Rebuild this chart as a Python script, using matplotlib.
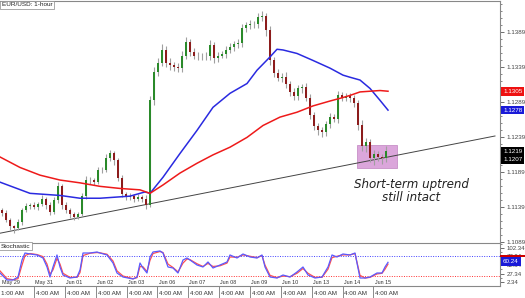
import numpy as np
import matplotlib
matplotlib.use('Agg')
from matplotlib import pyplot as plt
from matplotlib.patches import Rectangle

# 3-hour candles (close prices), open = previous close
first_open = 1.1135
closes = [1.1131, 1.1121, 1.1112, 1.1109, 1.1118, 1.1135, 1.1141, 1.1142, 1.1139, 1.1144,
          1.1151, 1.1142, 1.1132, 1.1149, 1.1169, 1.1142, 1.1135, 1.1129, 1.1125, 1.1129,
          1.1155, 1.1178, 1.1178, 1.1175, 1.1192, 1.1192, 1.1209, 1.1216, 1.1206, 1.1181,
          1.1158, 1.1154, 1.1155, 1.1151, 1.1154, 1.1151, 1.1142, 1.1292, 1.1332, 1.1346,
          1.1364, 1.1346, 1.1342, 1.1339, 1.1338, 1.1356, 1.1375, 1.1361, 1.1356, 1.1355,
          1.1356, 1.1355, 1.1371, 1.1352, 1.1356, 1.1358, 1.1364, 1.1368, 1.1372, 1.1374,
          1.1395, 1.1399, 1.1401, 1.1401, 1.1411, 1.1412, 1.1392, 1.1349, 1.1331, 1.1324,
          1.1326, 1.1315, 1.1304, 1.1298, 1.1309, 1.1311, 1.1296, 1.1271, 1.1255, 1.1249,
          1.1246, 1.1258, 1.1268, 1.1266, 1.1299, 1.1296, 1.1298, 1.1295, 1.1288, 1.1256,
          1.1226, 1.1232, 1.1209, 1.1215, 1.1211, 1.1209, 1.1219]
# wick lengths in pips above / below the body
wick_up = [3, 4, 3, 2, 4, 3, 4, 3, 4, 3,
           5, 3, 4, 5, 6, 3, 4, 3, 3, 4,
           5, 6, 4, 3, 5, 4, 6, 5, 4, 3,
           4, 3, 4, 3, 4, 3, 5, 6, 7, 6,
           8, 5, 6, 5, 6, 6, 8, 5, 6, 5,
           4, 5, 7, 4, 5, 4, 5, 6, 5, 5,
           6, 5, 6, 5, 6, 7, 5, 6, 5, 6,
           5, 6, 5, 6, 5, 5, 6, 5, 5, 4,
           5, 5, 6, 5, 6, 5, 4, 4, 5, 5,
           8, 6, 5, 6, 5, 4, 8]
wick_dn = [4, 3, 5, 6, 3, 4, 3, 4, 3, 4,
           3, 5, 4, 3, 4, 6, 4, 5, 4, 3,
           3, 4, 5, 4, 3, 4, 3, 4, 6, 5,
           4, 5, 4, 4, 3, 4, 5, 3, 6, 5,
           5, 7, 6, 5, 6, 5, 5, 6, 5, 6,
           5, 6, 5, 7, 5, 4, 5, 5, 6, 5,
           6, 5, 5, 6, 5, 6, 8, 7, 6, 5,
           6, 5, 6, 5, 6, 7, 5, 6, 5, 6,
           6, 5, 6, 5, 6, 5, 5, 6, 6, 7,
           6, 8, 5, 9, 6, 8, 5]

# moving averages (bar position, value)
ma_blue_x = [-0.5, 7, 14.5, 19.5, 24.5, 32, 35.75, 37, 40.25, 44.5, 48.75, 52.75, 57, 61.25,
             63.75, 67, 68.75, 70.25, 73.75, 77.75, 82, 85.25, 87, 89.5, 92, 94.5, 96.5]
ma_blue = [1.1175, 1.1159, 1.1156, 1.1152, 1.1152, 1.1155, 1.1161, 1.1159, 1.1182, 1.1216,
           1.1249, 1.1282, 1.1302, 1.1316, 1.1335, 1.1354, 1.1365, 1.1364, 1.1359, 1.1349,
           1.1338, 1.1328, 1.1325, 1.1321, 1.1309, 1.1292, 1.1278]
ma_red_x = [-0.5, 4.5, 9.5, 14.5, 19.5, 24.5, 29.5, 34.5, 37, 40.25, 44.5, 48.75, 52.75, 57,
            61.25, 65.25, 69.5, 73.75, 77.75, 82, 85.25, 87, 89.5, 92, 94.5, 96.5]
ma_red = [1.1211, 1.1196, 1.1185, 1.1178, 1.1174, 1.1169, 1.1166, 1.1164, 1.1159, 1.1171,
          1.1188, 1.1202, 1.1214, 1.1225, 1.1239, 1.1256, 1.1268, 1.1275, 1.1284, 1.1291,
          1.1296, 1.1299, 1.1304, 1.1305, 1.1306, 1.1305]

trend_x = [-0.5, 123.25]
trend_y = [1.1102, 1.1241]

box_x = [88.75, 98.75]
box_y = [1.1195, 1.1228]

# stochastic
stoch_x = [-0.5, 1.25, 2.75, 4, 5, 5.75, 7, 8.75, 10.25, 11.25,
           12, 12.75, 13.75, 14.5, 15.25, 17, 18.75, 19.5, 20.25, 22,
           23.75, 24.5, 26.25, 27.75, 28.75, 30.25, 32.75, 33.75, 34.5, 35.25,
           36.25, 37, 37.75, 39.5, 40.25, 41.5, 42.75, 44, 45.25, 46.25,
           47, 48.75, 50.25, 51.5, 52.75, 54.5, 56.25, 57, 58.75, 60.25,
           62, 63.75, 65, 65.75, 67, 68.75, 70.25, 72, 73.75, 75.25,
           76.5, 78.25, 80, 81.5, 82.5, 83.75, 85.25, 87, 88.25, 89.5,
           90.75, 92, 93.75, 95, 95.75, 96.5]
stoch_k = [28.8, 8.2, 8.2, 17, 67, 87.6, 84.7, 81.8, 72.9, 46.5,
           17, 46.5, 81.8, 46.5, 22.9, 14.1, 17, 37.6, 87.6, 87.6,
           90.6, 87.6, 81.8, 58.2, 28.8, 17, 11.2, 17, 58.2, 43.5,
           28.8, 75.9, 90.6, 93.5, 87.6, 46.5, 43.5, 28.8, 67, 72.9,
           67, 52.3, 46.5, 61.2, 43.5, 52.3, 61.2, 81.8, 72.9, 84.7,
           75.9, 72.9, 81.8, 46.5, 17, 14.1, 22.9, 17, 31.8, 46.5,
           22.9, 14.1, 17, 46.5, 81.8, 75.9, 84.7, 81.8, 87.6, 14.1,
           14.1, 17, 28.8, 28.8, 46.5, 60.2]
stoch_d = [35, 12, 9, 12, 52, 80, 86, 83, 77, 55,
           25, 38, 72, 55, 28, 16, 16, 30, 80, 87,
           89, 88, 84, 64, 35, 20, 12, 15, 48, 47,
           33, 66, 86, 92, 89, 55, 45, 32, 58, 70,
           68, 56, 48, 57, 48, 50, 58, 76, 75, 82,
           78, 74, 80, 52, 22, 15, 20, 18, 28, 42,
           28, 16, 16, 40, 74, 78, 82, 82, 86, 22,
           14, 16, 26, 28, 40, 55]

price_ticks = [1.1089, 1.1139, 1.1189, 1.1239, 1.1289, 1.1339, 1.1389]
stoch_ticks = [2.34, 27.34, 52.34, 77.34, 102.34]
day_labels = ['May 31', 'Jun 01', 'Jun 02', 'Jun 03', 'Jun 06', 'Jun 07',
              'Jun 08', 'Jun 09', 'Jun 10', 'Jun 13', 'Jun 14', 'Jun 15']

plt.rcParams['font.family'] = ['Liberation Sans', 'DejaVu Sans']

W, H = 525, 298
fig = plt.figure(figsize=(W / 100, H / 100), dpi=100)
ax = fig.add_axes([0, 55 / H, 500 / W, 242 / H])
ax2 = fig.add_axes([0, 12 / H, 500 / W, 43 / H])
xlim = (-0.5, 124.5)
edge = '#888888'
lab_col = '#444444'

# candles
opens = [first_open] + closes[:-1]
for i, (o, c) in enumerate(zip(opens, closes)):
    hi = max(o, c) + wick_up[i] * 0.0001
    lo = min(o, c) - wick_dn[i] * 0.0001
    ax.vlines(i, lo, hi, color='#a0a0a0', lw=0.8, zorder=3)
    col = '#2a8a2a' if c >= o else '#8c1c1c'
    ax.bar(i, max(abs(c - o), 0.00005), bottom=min(o, c), width=0.45, color=col, lw=0, zorder=4)

ax.add_patch(Rectangle((box_x[0], box_y[0]), box_x[1] - box_x[0], box_y[1] - box_y[0],
                       facecolor='#dba6db', edgecolor='#c890c8', lw=0.6, zorder=1))
ax.plot(ma_blue_x, ma_blue, color='#2a2ae0', lw=1.1, zorder=5)
ax.plot(ma_red_x, ma_red, color='#ee1a1a', lw=1.1, zorder=5)
ax.plot(trend_x, trend_y, color='#444444', lw=0.7, zorder=2)

ax.text(0.822, 0.213, 'Short-term uptrend\nstill intact', transform=ax.transAxes,
        ha='center', va='center', fontsize=8.6, family='DejaVu Sans', style='italic',
        color='#222222', linespacing=1.0)

ax.set_xlim(*xlim)
ax.set_ylim(1.1088, 1.1434)
ax.set_xticks([])
ax.yaxis.tick_right()
ax.set_yticks(price_ticks)
ax.set_yticklabels(['%.4f' % v for v in price_ticks])
ax.set_yticks(np.arange(1.1089, 1.1434, 0.001), minor=True)
ax.tick_params(axis='y', which='major', length=3, width=0.6, color='#555555',
               labelsize=4.5, labelcolor=lab_col, pad=2)
ax.tick_params(axis='y', which='minor', length=1.5, width=0.5, color='#555555')
for s in ['left', 'bottom']:
    ax.spines[s].set_visible(False)
for s in ['top', 'right']:
    ax.spines[s].set_color(edge)
    ax.spines[s].set_linewidth(0.8)

ax.text(0.003, 0.995, 'EUR/USD: 1-hour', transform=ax.transAxes, ha='left', va='top',
        fontsize=4.6, color='#222222',
        bbox=dict(boxstyle='square,pad=0.25', facecolor='white', edgecolor='#888888', lw=0.5))

tr = ax.get_yaxis_transform()
box_kw = dict(boxstyle='square,pad=0.3', lw=0)
ax.text(1.006, ma_red[-1], '1.1305', transform=tr, ha='left', va='center', fontsize=4.5,
        color='white', bbox=dict(facecolor='#ee1111', **box_kw))
ax.text(1.006, ma_blue[-1], '1.1278', transform=tr, ha='left', va='center', fontsize=4.5,
        color='white', bbox=dict(facecolor='#1a1ad8', **box_kw))
ax.text(1.006, closes[-1], '1.1219', transform=tr, ha='left', va='center', fontsize=4.5,
        color='white', bbox=dict(facecolor='black', **box_kw))
ax.text(1.006, 1.1207, '1.1207', transform=tr, ha='left', va='center', fontsize=4.5,
        color='white', bbox=dict(facecolor='black', **box_kw))

# stochastic panel
ax2.plot(stoch_x, stoch_d, color='#ff5050', lw=0.9, zorder=3)
ax2.plot(stoch_x, stoch_k, color='#5a5aff', lw=0.9, zorder=4)
ax2.axhline(80, color='#4040ff', lw=0.7, ls=(0, (1, 1.5)))
ax2.axhline(20, color='#ff3030', lw=0.7, ls=(0, (1, 1.5)))
ax2.set_xlim(*xlim)
ax2.set_ylim(-9.4, 117)
ax2.set_xticks([])
ax2.yaxis.tick_right()
ax2.set_yticks(stoch_ticks)
ax2.set_yticklabels(['%.2f' % v for v in stoch_ticks])
ax2.set_yticks(np.arange(2.34, 115, 12.5), minor=True)
ax2.tick_params(axis='y', which='major', length=3, width=0.6, color='#555555',
                labelsize=4.3, labelcolor=lab_col, pad=2)
ax2.tick_params(axis='y', which='minor', length=1.5, width=0.5, color='#555555')
ax2.spines['left'].set_visible(False)
for s in ['top', 'bottom', 'right']:
    ax2.spines[s].set_color(edge)
    ax2.spines[s].set_linewidth(0.8)
ax2.text(0.002, 0.98, 'Stochastic', transform=ax2.transAxes, ha='left', va='top',
         fontsize=4.6, color='#222222',
         bbox=dict(boxstyle='square,pad=0.25', facecolor='white', edgecolor='#888888', lw=0.5))

tr2 = ax2.get_yaxis_transform()
ax2.add_patch(Rectangle((1.0, 77), 0.05, 6, transform=tr2, clip_on=False,
                        facecolor='#cc0000', lw=0, zorder=6))
ax2.text(1.006, 62.5, '60.24', transform=tr2, ha='left', va='center', fontsize=4.5,
         color='white', zorder=7, bbox=dict(facecolor='#1a1ad8', boxstyle='square,pad=0.35', lw=0))

# date / time labels
tick_x = [8 + 7.7125 * k for k in range(len(day_labels))]
xt = ax2.get_xaxis_transform()
ax2.text(0.0, 0.03, 'May 29', transform=xt, ha='left', va='bottom', fontsize=3.9, color='#333333')
ax2.text(-0.2, -0.12, '1:00 AM', transform=xt, ha='left', va='top', fontsize=4.5,
         color='#333333', clip_on=False)
for tx, lab in zip(tick_x, day_labels):
    ax2.text(tx + 0.3, 0.03, lab, transform=xt, ha='left', va='bottom', fontsize=3.9,
             color='#333333')
    ax2.text(tx + 0.5, -0.12, '4:00 AM', transform=xt, ha='left', va='top', fontsize=4.5,
             color='#333333', clip_on=False)
    ax2.plot([tx, tx], [0, -0.3], transform=xt, color='#777777', lw=0.6, clip_on=False)

fig.savefig('out.png', dpi=100)
